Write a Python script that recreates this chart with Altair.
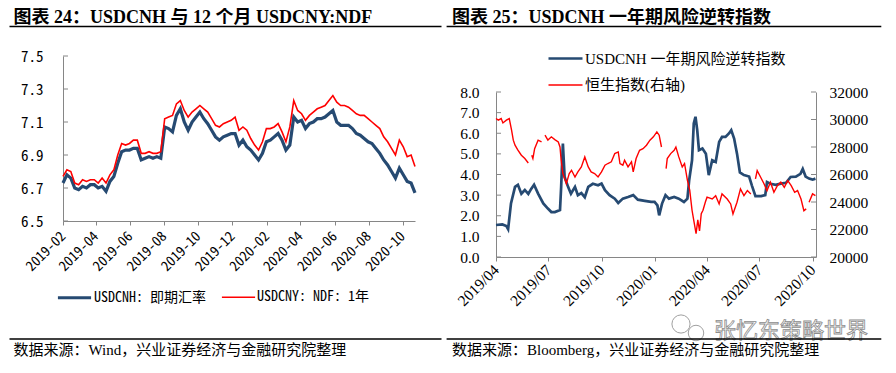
import altair as alt
import pandas as pd

BLUE = "#264a72"
RED = "#ff0000"
AXIS = "#868686"
SERIF = "'Liberation Serif', 'Noto Sans CJK SC', serif"
MONO = "'Noto Sans Mono CJK SC', 'Liberation Mono', monospace"

# ---------------- left panel: weekly fixings from 2019-02-01 ----------------
left_start = "2019-02-01"
cnh_spot = [
    6.73, 6.78, 6.76, 6.70, 6.69, 6.71, 6.70, 6.72, 6.72, 6.70,
    6.71, 6.68, 6.74, 6.77, 6.85, 6.92, 6.93, 6.93, 6.94, 6.94,
    6.87, 6.88, 6.89, 6.88, 6.89, 6.88, 7.07, 7.06, 7.04, 7.14,
    7.18, 7.10, 7.05, 7.10, 7.13, 7.16, 7.12, 7.09, 7.05, 7.01,
    6.99, 7.01, 7.02, 7.03, 7.03, 6.96, 6.99, 6.95, 6.93, 6.90,
    6.87, 6.91, 6.98, 6.99, 7.01, 7.03, 6.99, 6.93, 6.96, 7.13,
    7.10, 7.11, 7.06, 7.09, 7.10, 7.12, 7.12, 7.13, 7.15, 7.17,
    7.10, 7.08, 7.08, 7.08, 7.06, 7.03, 7.02, 7.00, 6.98, 6.97,
    6.94, 6.91, 6.87, 6.84, 6.80, 6.76, 6.82, 6.78, 6.74, 6.73,
    6.67,
]
ndf_1y = [
    6.77, 6.81, 6.80, 6.73, 6.72, 6.75, 6.74, 6.75, 6.75, 6.73,
    6.76, 6.73, 6.78, 6.81, 6.90, 6.97, 6.96, 6.97, 6.99, 6.99,
    6.91, 6.91, 6.92, 6.91, 6.91, 6.92, 7.12, 7.13, 7.14, 7.21,
    7.23, 7.17, 7.13, 7.16, 7.18, 7.20, 7.18, 7.16, 7.12, 7.08,
    7.07, 7.09, 7.10, 7.11, 7.13, 7.05, 7.07, 7.05, 7.00, 6.96,
    6.93, 6.98, 7.06, 7.06, 7.07, 7.09, 7.04, 6.98, 7.07, 7.23,
    7.17, 7.15, 7.11, 7.14, 7.16, 7.18, 7.19, 7.20, 7.23, 7.26,
    7.22, 7.20, 7.20, 7.19, 7.17, 7.15, 7.14, 7.14, 7.12, 7.10,
    7.08, 7.06, 7.01, 6.98, 6.94, 6.90, 6.99, 6.95, 6.89, 6.90,
    6.83,
]
left_series = ["USDCNH: 即期汇率", "USDCNY: NDF: 1年"]
left_yticks = [6.5, 6.7, 6.9, 7.1, 7.3, 7.5]
left_xticks = ["2019-02-01", "2019-04-01", "2019-06-01", "2019-08-01", "2019-10-01",
               "2019-12-01", "2020-02-01", "2020-04-01", "2020-06-01", "2020-08-01",
               "2020-10-01"]
left_domain = ["2019-02-01", "2020-10-23"]
left_title = "图表 24：USDCNH 与 12 个月 USDCNY:NDF"
left_source = "数据来源：Wind，兴业证券经济与金融研究院整理"

# ---------------- right panel ----------------
rr_dates = [
    "2019-04-01", "2019-04-12", "2019-04-19", "2019-04-22", "2019-04-27", "2019-05-04",
    "2019-05-09", "2019-05-15", "2019-05-21", "2019-05-27", "2019-06-01", "2019-06-06",
    "2019-06-13", "2019-06-22", "2019-06-30", "2019-07-06", "2019-07-12", "2019-07-21",
    "2019-07-23", "2019-07-26", "2019-07-29", "2019-08-04", "2019-08-09", "2019-08-16",
    "2019-08-21", "2019-08-27", "2019-09-02", "2019-09-08", "2019-09-16", "2019-09-25",
    "2019-10-01", "2019-10-07", "2019-10-15", "2019-10-24", "2019-10-30", "2019-11-07",
    "2019-11-16", "2019-11-25", "2019-12-03", "2019-12-15", "2019-12-26", "2020-01-01",
    "2020-01-06", "2020-01-09", "2020-01-14", "2020-01-20", "2020-01-26", "2020-02-04",
    "2020-02-12", "2020-02-21", "2020-02-27", "2020-03-01", "2020-03-06", "2020-03-09",
    "2020-03-12", "2020-03-15", "2020-03-18", "2020-03-24", "2020-03-30", "2020-04-04",
    "2020-04-10", "2020-04-16", "2020-04-22", "2020-04-27", "2020-05-03", "2020-05-09",
    "2020-05-13", "2020-05-18", "2020-05-23", "2020-05-28", "2020-06-04", "2020-06-13",
    "2020-06-18", "2020-06-24", "2020-07-04", "2020-07-11", "2020-07-14", "2020-07-20",
    "2020-07-29", "2020-08-07", "2020-08-16", "2020-08-24", "2020-09-02", "2020-09-10",
    "2020-09-14", "2020-09-19", "2020-09-25", "2020-10-01", "2020-10-06",
]
rr_values = [
    1.55, 1.58, 1.50, 1.35, 2.60, 3.40,
    3.50, 3.07, 3.25, 3.06, 3.30, 3.50,
    3.07, 2.60, 2.35, 2.18, 2.18, 2.28,
    3.40, 5.50, 3.88, 3.40, 3.07, 3.40,
    3.00, 3.10, 2.90, 3.40, 3.55, 3.48,
    3.56, 3.24, 3.00, 2.83, 2.62, 2.83,
    2.91, 3.00, 2.78, 2.72, 2.67, 2.67,
    2.50, 2.02, 2.59, 3.00, 2.83, 2.91,
    2.83, 2.67, 2.83, 3.72, 4.69, 6.47,
    6.80, 6.15, 5.18, 5.26, 5.01, 3.97,
    4.69, 4.61, 5.58, 5.82, 5.82, 5.99,
    6.15, 5.74, 5.01, 4.10, 3.97, 3.90,
    3.45, 2.95, 2.95, 3.00, 3.63, 3.55,
    3.50, 3.56, 3.60, 3.88, 3.90, 4.03,
    4.27, 3.90, 3.80, 3.75, 3.80,
]
# None marks a break in the Hang Seng line
hsi_dates = [
    "2019-04-01", "2019-04-05", "2019-04-10", "2019-04-13", "2019-04-19", "2019-04-24",
    "2019-04-28", "2019-05-01", "2019-05-04", "2019-05-09", "2019-05-15", "2019-05-21",
    "2019-05-27", "2019-05-30", "2019-06-02", "2019-06-04", "2019-06-07", "2019-06-13",
    "2019-06-19", "2019-06-22", "2019-06-25", "2019-06-30", "2019-07-06", "2019-07-12",
    "2019-07-18", "2019-07-21", "2019-07-23", "2019-07-26", "2019-07-29", "2019-08-01",
    "2019-08-06", "2019-08-10", "2019-08-16", "2019-08-21", "2019-08-27", "2019-09-02",
    "2019-09-08", "2019-09-13", "2019-09-19", "2019-09-25", "2019-10-01", "2019-10-07",
    "2019-10-12", "2019-10-18", "2019-10-24", "2019-10-30", "2019-11-02", "2019-11-07",
    "2019-11-10", "2019-11-16", "2019-11-22", "2019-11-25", "2019-11-30", "2019-12-06",
    "2019-12-12", "2019-12-18", "2019-12-24", "2019-12-30", "2020-01-05", "2020-01-09",
    "2020-01-13", "2020-01-17", "2020-01-21", "2020-01-23", "2020-01-29", "2020-02-04",
    "2020-02-07", "2020-02-12", "2020-02-18", "2020-02-22", "2020-02-27", "2020-03-02",
    "2020-03-06", "2020-03-10", "2020-03-13", "2020-03-16", "2020-03-19", "2020-03-22",
    "2020-03-25", "2020-03-29", "2020-04-01", "2020-04-10", "2020-04-16", "2020-04-22",
    "2020-04-27", "2020-05-06", "2020-05-12", "2020-05-16", "2020-05-23", "2020-05-29",
    "2020-06-04", "2020-06-10", "2020-06-16", "2020-06-20", "2020-06-24", "2020-06-27",
    "2020-07-03", "2020-07-09", "2020-07-14", "2020-07-20", "2020-07-26", "2020-08-01",
    "2020-08-07", "2020-08-13", "2020-08-19", "2020-08-25", "2020-08-31", "2020-09-05",
    "2020-09-11", "2020-09-16", "2020-09-20", "2020-09-23", "2020-09-25", "2020-10-01",
    "2020-10-06",
]
hsi_values = [
    30070, 29950, 30070, 29750, 29950, 30070,
    29225, 28500, 28130, 27770, 27400, 27160,
    26840, None, 27400, 27160, 27880, 28500,
    28370, None, 28860, 28500, 28740, 28540,
    28370, 28000, 27040, 26070, 25700, 25340,
    26070, 26310, 25820, 26190, 26550, 27280,
    26550, 26190, 26070, 25820, 26190, 26680,
    26800, 26920, 27520, 27640, 26800, 26680,
    27040, 26550, 26920, 26190, 27160, 27760,
    27880, 28130, 28500, 28740, 29100, 28860,
    28000, None, 26430, 27160, 27520, 27760,
    28000, 27280, 26550, 26800, 25580, 24860,
    23400, 22420, 21700, 22700, 21900, 23150,
    23400, 23980, 24350, 24220, 24460, 23860,
    24590, 24220, 23860, 23130, 23980, 24950,
    24460, 24830, 24590, None, 25680, 26280,
    25800, 25310, 24830, 25440, 24710, 25190,
    25440, 25070, 25550, 25190, 24710, 24830,
    24220, 23370, 23500, None, 23980, 24590,
    24460,
]
right_series = ["USDCNH 一年期风险逆转指数", "恒生指数(右轴)"]
rr_ticks = [0, 1, 2, 3, 4, 5, 6, 7, 8]
hsi_ticks = [20000, 22000, 24000, 26000, 28000, 30000, 32000]
right_xticks = ["2019-04-01", "2019-07-01", "2019-10-01", "2020-01-01",
                "2020-04-01", "2020-07-01", "2020-10-01"]
right_domain = ["2019-04-01", "2020-10-07"]
right_title = "图表 25：USDCNH 一年期风险逆转指数"
right_source = "数据来源：Bloomberg，兴业证券经济与金融研究院整理"
watermark = "张忆东策略世界"


def dt(s):
    y, m, d = (int(p) for p in s.split("-"))
    return alt.DateTime(year=y, month=m, date=d, utc=True)


def text_layer(txt, x, y, size, font=SERIF, weight="normal", **kw):
    return alt.Chart(pd.DataFrame({"t": [txt]})).mark_text(
        align="left", baseline="middle", font=font, fontSize=size,
        fontWeight=weight, **kw
    ).encode(text="t:N", x=alt.value(x), y=alt.value(y))


def hrule(x1, x2, y, width=1.3):
    return alt.Chart(pd.DataFrame({"k": [0]})).mark_rule(
        color="#000000", strokeWidth=width
    ).encode(x=alt.value(x1), x2=alt.value(x2), y=alt.value(y))


# ---------------- left chart ----------------
# the left plot sits 36 px higher than the right one: its y range reaches above the view
W1, H1 = 352, 129
ldates = pd.date_range(left_start, periods=len(cnh_spot), freq="7D").strftime("%Y-%m-%d").tolist()
df_left = pd.DataFrame({
    "date": ldates * 2,
    "value": cnh_spot + ndf_1y,
    "series": [left_series[0]] * len(cnh_spot) + [left_series[1]] * len(ndf_1y),
})

x_left = alt.X(
    "date:T", title=None,
    scale=alt.Scale(type="utc", domain=[dt(left_domain[0]), dt(left_domain[1])]),
    axis=alt.Axis(values=[dt(s) for s in left_xticks], format="%Y-%m", labelAngle=-45,
                  labelAlign="right", labelBaseline="middle", labelFlush=False,
                  labelOverlap=False, tickSize=4, labelPadding=9, labelFont=MONO,
                  labelFontSize=14, labelColor="#000000", domainColor=AXIS,
                  tickColor=AXIS, grid=False),
)
y_left = alt.Y(
    "value:Q", title=None, scale=alt.Scale(domain=[6.5, 7.5], range=[H1, H1 - 165]),
    axis=alt.Axis(values=left_yticks, format=".1f", ticks=False, tickSize=0,
                  labelPadding=20, labelFont=MONO, labelFontSize=15,
                  labelColor="#000000", domainColor=AXIS, grid=False),
)
leg_l = alt.Legend(title=None, orient="none", legendX=-7, legendY=187,
                   direction="horizontal", symbolType="stroke", symbolSize=1100,
                   labelFont=MONO, labelFontSize=14, labelColor="#000000",
                   labelOffset=1, columnPadding=12, labelLimit=400)

left_lines = alt.Chart(df_left).mark_line().encode(
    x=x_left, y=y_left,
    color=alt.Color("series:N", scale=alt.Scale(domain=left_series, range=[BLUE, RED]), legend=leg_l),
    strokeWidth=alt.StrokeWidth("series:N", scale=alt.Scale(domain=left_series, range=[3.2, 1.6]), legend=leg_l),
)
left_ticks = alt.Chart(pd.DataFrame({"value": left_yticks})).mark_rule(
    color=AXIS, strokeWidth=1
).encode(y=y_left, x=alt.value(0), x2=alt.value(5))

left = alt.layer(
    left_lines,
    left_ticks,
    text_layer(left_title, -49.5, -74.5, 18, weight="bold", color="#000000"),
    hrule(-53.5, 378.5, -65.5),
    hrule(-53.5, 378.5, 247),
    text_layer(left_source, -49.5, 258, 15, color="#000000"),
).properties(width=W1, height=H1)

# ---------------- right chart ----------------
W2, H2 = 320, 165
df_rr = pd.DataFrame({"date": rr_dates, "rr": rr_values, "series": right_series[0]})
rows = []
seg = 0
for d, v in zip(hsi_dates, hsi_values):
    if v is None:
        seg += 1
        continue
    rows.append({"date": d, "hsi": v, "seg": seg, "series": right_series[1]})
df_hsi = pd.DataFrame(rows)

x_right = alt.X(
    "date:T", title=None,
    scale=alt.Scale(type="utc", domain=[dt(right_domain[0]), dt(right_domain[1])]),
    axis=alt.Axis(values=[dt(s) for s in right_xticks], format="%Y/%m", labelAngle=-45,
                  labelAlign="right", labelBaseline="middle", labelFlush=False,
                  labelOverlap=False, tickSize=4, labelPadding=6, labelFont=SERIF,
                  labelFontSize=15.5, labelColor="#000000", domainColor=AXIS,
                  tickColor=AXIS, grid=False),
)
y_rr = alt.Y(
    "rr:Q", title=None, scale=alt.Scale(domain=[0, 8]),
    axis=alt.Axis(orient="left", values=rr_ticks, format=".1f", ticks=False, tickSize=0,
                  labelPadding=17, labelFont=SERIF, labelFontSize=15.5,
                  labelColor="#000000", domainColor=AXIS, grid=False),
)
y_hsi = alt.Y(
    "hsi:Q", title=None, scale=alt.Scale(domain=[20000, 32000]),
    axis=alt.Axis(orient="right", values=hsi_ticks, format="d", ticks=False, tickSize=0,
                  labelPadding=13, labelFont=SERIF, labelFontSize=15.5,
                  labelColor="#000000", domainColor=AXIS, grid=False),
)
leg_r = alt.Legend(title=None, orient="none", legendX=51, legendY=-52,
                   direction="vertical", symbolType="stroke", symbolSize=1156,
                   labelFont=SERIF, labelFontSize=15, labelColor="#000000",
                   labelOffset=1, rowPadding=-13, labelLimit=400)
color_r = alt.Color("series:N", scale=alt.Scale(domain=right_series, range=[BLUE, RED]), legend=leg_r)
sw_r = alt.StrokeWidth("series:N", scale=alt.Scale(domain=right_series, range=[2.7, 1.4]), legend=leg_r)

hsi_layer = alt.layer(
    alt.Chart(df_hsi).mark_line().encode(x=x_right, y=y_hsi, color=color_r, strokeWidth=sw_r, detail="seg:N"),
    alt.Chart(pd.DataFrame({"hsi": hsi_ticks})).mark_rule(color=AXIS, strokeWidth=1).encode(
        y=y_hsi, x=alt.value(W2 - 5), x2=alt.value(W2)),
)
rr_layer = alt.layer(
    alt.Chart(df_rr).mark_line().encode(x=x_right, y=y_rr, color=color_r, strokeWidth=sw_r),
    alt.Chart(pd.DataFrame({"rr": rr_ticks})).mark_rule(color=AXIS, strokeWidth=1).encode(
        y=y_rr, x=alt.value(0), x2=alt.value(5)),
)

icon1 = alt.Chart(pd.DataFrame({"k": [0]})).mark_point(
    shape="circle", filled=True, fill="#ffffff", stroke="#a0a0a0", strokeWidth=1, opacity=1, size=330
).encode(x=alt.value(185), y=alt.value(232))
icon2 = alt.Chart(pd.DataFrame({"k": [0]})).mark_point(
    shape="circle", filled=True, fill="#ffffff", stroke="#a0a0a0", strokeWidth=1, opacity=1, size=240
).encode(x=alt.value(200), y=alt.value(241))

right = alt.layer(
    rr_layer,
    hsi_layer,
    text_layer(right_title, -44, -74.5, 18, weight="bold", color="#000000"),
    hrule(-49.4, 385.3, -65.5),
    icon1,
    icon2,
    text_layer(watermark, 218, 239, 22, font="'Noto Sans CJK SC'", fill="#ffffff",
               stroke="#8c8c8c", strokeWidth=0.8),
    hrule(-49.4, 385.3, 247),
    text_layer(right_source, -44, 258, 15, color="#000000"),
).resolve_scale(y="independent").properties(width=W2, height=H2)

chart = alt.hconcat(left, right, spacing=2).resolve_scale(
    color="independent", strokeWidth="independent"
).resolve_legend(
    color="independent", strokeWidth="independent"
).properties(padding=0).configure_view(strokeWidth=0)

chart.save("out.html", embed_options={"renderer": "svg", "actions": False})
